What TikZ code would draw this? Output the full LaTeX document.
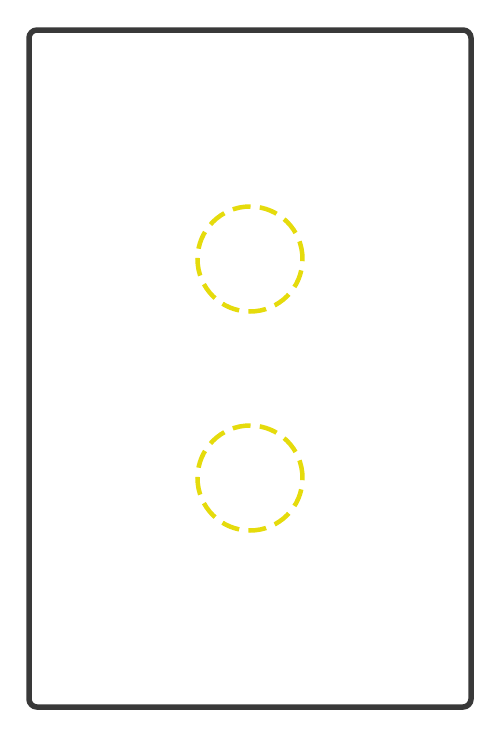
\documentclass[tikz,border=0pt]{standalone}
\usepackage{xcolor}
\definecolor{frame}{HTML}{393939}
\definecolor{ring}{HTML}{E5DB0C}
\begin{document}
\begin{tikzpicture}[x=1pt,y=-1pt,
  plate/.style={draw=frame,line width=5.5pt,rounded corners=8pt},
  hole/.style={draw=ring,line width=4.5pt,dash pattern=on 18pt off 9.3pt,circle,minimum size=105pt,inner sep=0pt}]
\useasboundingbox (0,0) rectangle (500,737);
\draw[plate] (29,30) rectangle (471,707);
\node[hole] (c1) at (250,259) {};
\node[hole] (c2) at (250,478) {};
\end{tikzpicture}
\end{document}
